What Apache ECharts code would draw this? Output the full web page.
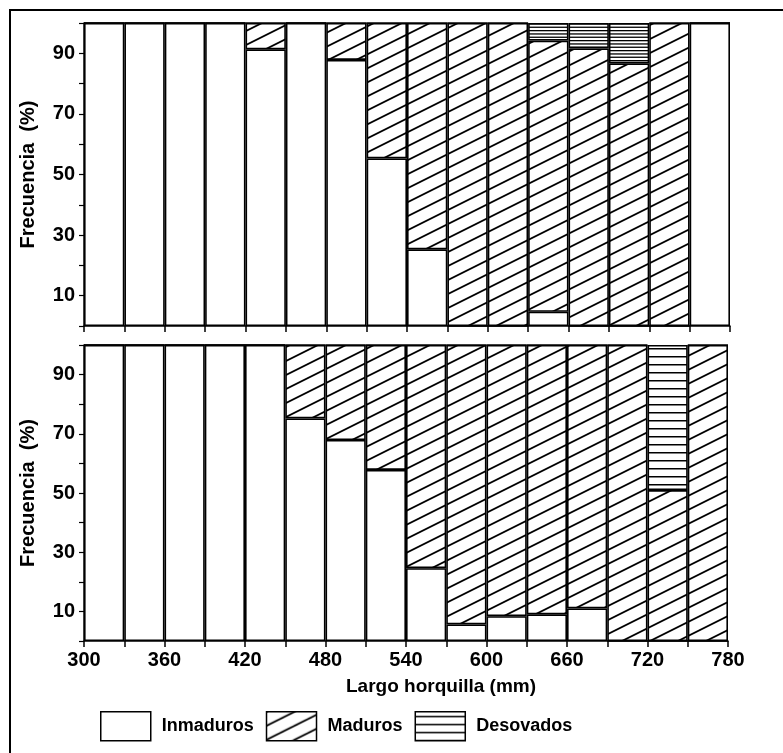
<!DOCTYPE html>
<html>
<head>
<meta charset="utf-8">
<script src="https://cdn.jsdelivr.net/npm/echarts@6/dist/echarts.min.js"></script>
<style>
  html, body { margin: 0; padding: 0; background: #fff; }
  #chart { width: 783px; height: 753px; }
</style>
</head>
<body>
<div id="chart"></div>
<script>
// clases de largo (mm), cada 30 mm
const bins = ['300', '330', '360', '390', '420', '450', '480', '510', '540', '570', '600', '630', '660', '690', '720', '750']
const legendNames = ['Inmaduros', 'Maduros', 'Desovados']

// panel superior (%)
const topInmaduros = [100, 100, 100, 100, 91.3, 100, 87.8, 55.3, 25.3, 0, 0, 4.7, 0, 0, 0, 100]
const topMaduros = [0, 0, 0, 0, 8.7, 0, 12.2, 44.7, 74.7, 100, 100, 89.5, 91.6, 86.7, 100, 0]
const topDesovados = [0, 0, 0, 0, 0, 0, 0, 0, 0, 0, 0, 5.8, 8.4, 13.3, 0, 0]

// panel inferior (%)
const botInmaduros = [100, 100, 100, 100, 100, 75.2, 67.9, 57.8, 24.6, 5.6, 8.4, 9.0, 11.0, 0, 0, 0]
const botMaduros = [0, 0, 0, 0, 0, 24.8, 32.1, 42.2, 75.4, 94.4, 91.6, 91.0, 89.0, 100, 51.0, 100]
const botDesovados = [0, 0, 0, 0, 0, 0, 0, 0, 0, 0, 0, 0, 0, 0, 49.0, 0]

const FONT = "'Liberation Sans', Arial, sans-serif"

function diagHatch (s) {
  const w = s * 2, h = s
  const c = document.createElement('canvas')
  c.width = w
  c.height = h
  const ctx = c.getContext('2d')
  ctx.fillStyle = '#fff'
  ctx.fillRect(0, 0, w, h)
  ctx.strokeStyle = '#000'
  ctx.lineWidth = 1.8
  for (const k of [-1, 0, 1]) {
    ctx.beginPath()
    ctx.moveTo(-2, h + k * h + 1)
    ctx.lineTo(w + 2, k * h - 1)
    ctx.stroke()
  }
  return c
}

function horizHatch (lines, h, lw) {
  const c = document.createElement('canvas')
  c.width = 8
  c.height = h
  const ctx = c.getContext('2d')
  ctx.fillStyle = '#fff'
  ctx.fillRect(0, 0, 8, h)
  ctx.fillStyle = '#000'
  lines.forEach(y => ctx.fillRect(0, y, 8, lw))
  return c
}

const diag = {image: diagHatch(14), repeat: 'repeat'}
const horizWide = {image: horizHatch([4], 8, 1.5), repeat: 'repeat'}
const horizDense = {image: horizHatch([0, 3.3, 6.6], 10, 1.3), repeat: 'repeat'}

const border = {borderColor: '#000', borderWidth: 1.6}

function bars (name, data, fill, panel) {
  return {
    type: 'bar',
    name: name,
    stack: 'p' + panel,
    xAxisIndex: panel * 2,
    yAxisIndex: panel,
    barCategoryGap: 0,
    data: data,
    itemStyle: Object.assign({color: fill}, border),
    emphasis: {disabled: true}
  }
}

function valueX (grid, showLabels) {
  return {
    type: 'value',
    gridIndex: grid,
    position: 'bottom',
    min: 300,
    max: 780,
    interval: 30,
    axisLine: {lineStyle: {color: '#000', width: 1.5}},
    axisTick: {length: 6, lineStyle: {color: '#000', width: 1.5}},
    splitLine: {show: false},
    axisLabel: {
      show: showLabels,
      margin: 9,
      color: '#000',
      fontFamily: FONT,
      fontWeight: 'bold',
      fontSize: 20,
      formatter: v => (v % 60 === 0 ? String(v) : '')
    },
    name: showLabels ? 'Largo horquilla (mm)' : '',
    nameLocation: 'middle',
    nameGap: 36,
    nameTextStyle: {
      color: '#000',
      fontFamily: FONT,
      fontWeight: 'bold',
      fontSize: 19,
      padding: [0, 0, 0, 70]
    }
  }
}

function valueY (grid) {
  return {
    type: 'value',
    gridIndex: grid,
    min: 0,
    max: 100,
    interval: 10,
    axisLine: {show: true, lineStyle: {color: '#000', width: 1.5}},
    axisTick: {show: true, length: 5, lineStyle: {color: '#000', width: 1.2}},
    splitLine: {show: false},
    axisLabel: {
      margin: 9,
      color: '#000',
      fontFamily: FONT,
      fontWeight: 'bold',
      fontSize: 20,
      formatter: v => (v % 20 === 10 ? String(v) : '')
    },
    name: 'Frecuencia  (%)',
    nameLocation: 'middle',
    nameGap: 46,
    nameTextStyle: {
      color: '#000',
      fontFamily: FONT,
      fontWeight: 'bold',
      fontSize: 20
    }
  }
}

const chart = echarts.init(document.getElementById('chart'))
chart.setOption({
  animation: false,
  backgroundColor: '#fff',
  grid: [
    {left: 84, right: 53, top: 23, height: 303},
    {left: 84, right: 55, top: 345, height: 296}
  ],
  xAxis: [
    {type: 'category', gridIndex: 0, data: bins, show: false},
    valueX(0, false),
    {type: 'category', gridIndex: 1, data: bins, show: false},
    valueX(1, true)
  ],
  yAxis: [valueY(0), valueY(1)],
  legend: {
    data: legendNames,
    icon: 'rect',
    left: 100,
    top: 711,
    padding: 0,
    itemWidth: 50,
    itemHeight: 29,
    itemGap: 12,
    selectedMode: false,
    itemStyle: {borderColor: '#000', borderWidth: 1.5},
    textStyle: {
      color: '#000',
      fontFamily: FONT,
      fontWeight: 'bold',
      fontSize: 18,
      padding: [0, 0, 0, 6]
    }
  },
  graphic: [{
    type: 'rect',
    shape: {x: 10, y: 10, width: 820, height: 820},
    style: {fill: null, stroke: '#000', lineWidth: 2},
    silent: true
  }],
  series: [
    bars('Inmaduros', botInmaduros, '#fff', 1),
    bars('Maduros', botMaduros, diag, 1),
    bars('Desovados', botDesovados, horizWide, 1),
    bars('Inmaduros', topInmaduros, '#fff', 0),
    bars('Maduros', topMaduros, diag, 0),
    bars('Desovados', topDesovados, horizDense, 0)
  ]
})
</script>
</body>
</html>
